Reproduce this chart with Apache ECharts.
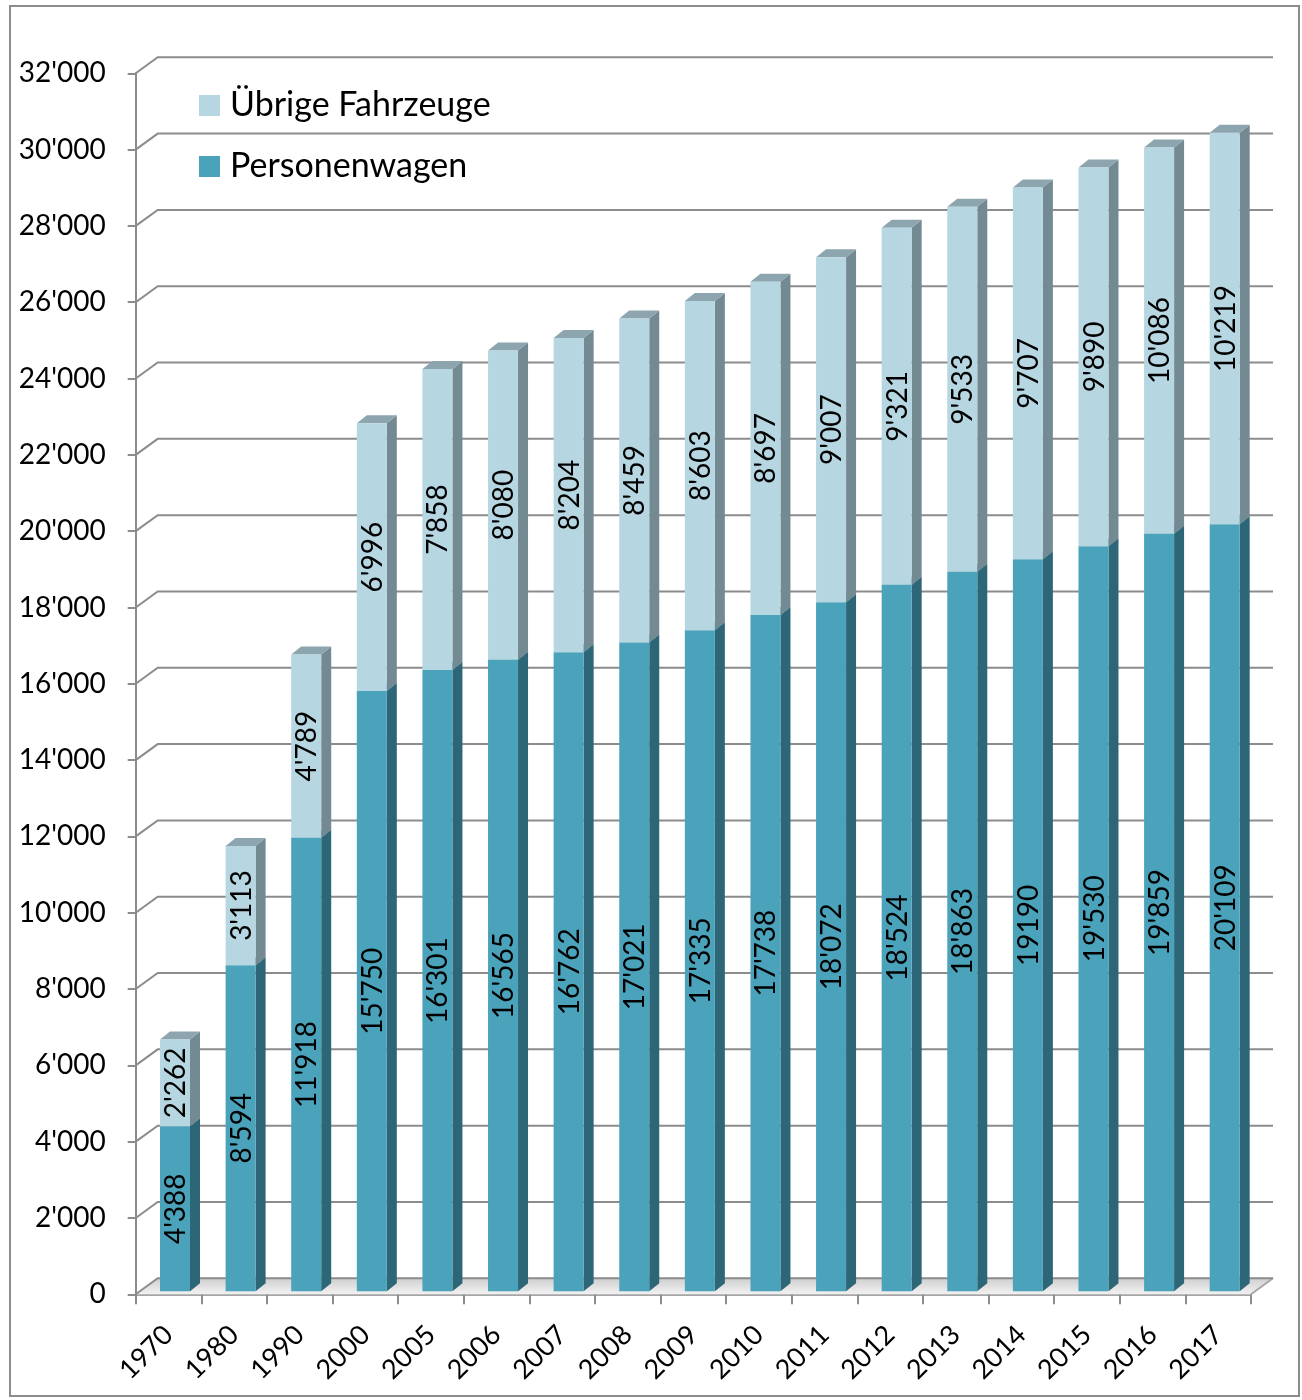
<!DOCTYPE html>
<html>
<head>
<meta charset="utf-8">
<script src="https://cdn.jsdelivr.net/npm/echarts@6/dist/echarts.min.js"></script>
<style>
html,body{margin:0;padding:0;background:#fff;}
#chart{width:1302px;height:1400px;}
</style>
</head>
<body>
<div id="chart"></div>
<script>
const years = ['1970','1980','1990','2000','2005','2006','2007','2008','2009','2010','2011','2012','2013','2014','2015','2016','2017'];
const personenwagen = [4388, 8594, 11918, 15750, 16301, 16565, 16762, 17021, 17335, 17738, 18072, 18524, 18863, 19190, 19530, 19859, 20109];
const uebrige = [2262, 3113, 4789, 6996, 7858, 8080, 8204, 8459, 8603, 8697, 9007, 9321, 9533, 9707, 9890, 10086, 10219];
const yTicks = [0, 2000, 4000, 6000, 8000, 10000, 12000, 14000, 16000, 18000, 20000, 22000, 24000, 26000, 28000, 30000, 32000];
const noSeparatorYears = ['2014'];

function fmt(v) {
  const s = String(Math.round(v));
  return s.replace(/\B(?=(\d{3})+(?!\d))/g, "'");
}

const GRID_COLOR = '#8c8c8c';
const DX = 22, DY = -16;          // depth offset of back wall
const BAR_W = 30, BAR_D = 10, BAR_H = 8, BAR_OFF = -8.5;

function wallRender(params, api) {
  const v = api.value(0);
  const cs = params.coordSys;
  const y = api.coord([0, v])[1];
  const x0 = cs.x, w = cs.width;
  const children = [];
  if (v === 0) {
    children.push({
      type: 'polygon',
      shape: { points: [[x0, y], [x0 + w, y], [x0 + w + DX, y + DY], [x0 + DX, y + DY]] },
      style: {
        fill: new echarts.graphic.LinearGradient(0, 0, 0, 1, [
          { offset: 0, color: '#cfcfcf' },
          { offset: 1, color: '#f2f2f2' }
        ])
      }
    });
    children.push({
      type: 'line',
      shape: { x1: x0 + w, y1: y, x2: x0 + w + DX, y2: y + DY },
      style: { stroke: '#a6a6a6', lineWidth: 2 }
    });
  }
  children.push({
    type: 'polyline',
    shape: { points: [[x0, y], [x0 + DX, y + DY], [x0 + w + DX, y + DY]] },
    style: { stroke: GRID_COLOR, lineWidth: 2, fill: null }
  });
  return { type: 'group', children: children };
}

function makeBarRender(front, side, top, isLower) {
  return function (params, api) {
    const i = api.value(0);
    const base = api.value(1);
    const val = api.value(2);
    const cx = api.coord([i, 0])[0];
    const yTop = api.coord([i, base + val])[1];
    const yBot = base === 0 ? api.coord([i, 0])[1] - 3 : api.coord([i, base])[1];
    const L = cx + BAR_OFF, R = L + BAR_W;
    let label = fmt(val);
    if (isLower && noSeparatorYears.indexOf(years[i]) >= 0) label = String(val);
    return {
      type: 'group',
      children: [
        { type: 'polygon', shape: { points: [[R, yBot], [R + BAR_D, yBot - BAR_H], [R + BAR_D, yTop - BAR_H], [R, yTop]] }, style: { fill: side } },
        { type: 'polygon', shape: { points: [[L, yTop], [R, yTop], [R + BAR_D, yTop - BAR_H], [L + BAR_D, yTop - BAR_H]] }, style: { fill: top } },
        { type: 'rect', shape: { x: L, y: yTop, width: BAR_W, height: yBot - yTop }, style: { fill: front } },
        { type: 'text', x: L + BAR_W / 2 + 1, y: (yTop + yBot) / 2, rotation: Math.PI / 2,
          style: { text: label, fill: '#000', font: '28px Lato', align: 'center', verticalAlign: 'middle' } }
      ]
    };
  };
}

const chart = echarts.init(document.getElementById('chart'), null, { renderer: 'canvas' });

const option = {
  animation: false,
  backgroundColor: '#fff',
  graphic: [{
    type: 'rect', left: 9, top: 5, z: -10,
    shape: { width: 1289, height: 1390 },
    style: { fill: '#fff', stroke: '#8c8c8c', lineWidth: 2 }
  }],
  legend: {
    orient: 'vertical',
    left: 199, top: 88.5,
    padding: 0,
    icon: 'rect',
    itemWidth: 21, itemHeight: 21, itemGap: 27,
    data: ['Übrige Fahrzeuge', 'Personenwagen'],
    textStyle: { fontFamily: 'Lato', fontSize: 34, color: '#000', lineHeight: 34, padding: [0, 0, 0, 5] }
  },
  grid: { left: 135.7, right: 51, top: 73.3, bottom: 105.7, containLabel: false },
  xAxis: {
    type: 'category',
    data: years,
    boundaryGap: true,
    axisLine: { lineStyle: { color: '#a6a6a6', width: 2 } },
    axisTick: { show: true, length: 10, lineStyle: { color: '#8c8c8c', width: 2 } },
    axisLabel: { interval: 0, rotate: 45, margin: 36, fontFamily: 'Lato', fontSize: 27, color: '#000' },
    splitLine: { show: false }
  },
  yAxis: [{
    type: 'value', min: 0, max: 32000, interval: 2000,
    axisLine: { show: true, lineStyle: { color: '#8c8c8c', width: 2 } },
    axisTick: { show: true, length: 8, lineStyle: { color: '#8c8c8c', width: 2 } },
    axisLabel: { margin: 30, fontFamily: 'Lato', fontSize: 28, color: '#000', formatter: function (v) { return fmt(v); } },
    splitLine: { show: false }
  }, {
    type: 'value', min: 0, max: 31880, show: false, splitLine: { show: false }
  }],
  series: [{
    type: 'custom',
    name: 'wall',
    yAxisIndex: 0,
    z: 1,
    silent: true,
    renderItem: wallRender,
    encode: { y: 0 },
    data: yTicks.map(v => [v])
  }, {
    type: 'custom',
    name: 'Personenwagen',
    yAxisIndex: 1,
    z: 3,
    itemStyle: { color: '#4aa3ba' },
    renderItem: makeBarRender('#4aa3ba', '#2d6677', '#3b8a9e', true),
    encode: { x: 0, y: 2 },
    data: personenwagen.map((v, i) => [i, 0, v])
  }, {
    type: 'custom',
    name: 'Übrige Fahrzeuge',
    yAxisIndex: 1,
    z: 4,
    itemStyle: { color: '#b6d6e1' },
    renderItem: makeBarRender('#b6d6e1', '#748a93', '#8ca5af', false),
    encode: { x: 0, y: 2 },
    data: uebrige.map((v, i) => [i, personenwagen[i], v])
  }]
};
chart.setOption(option);
</script>
</body>
</html>
